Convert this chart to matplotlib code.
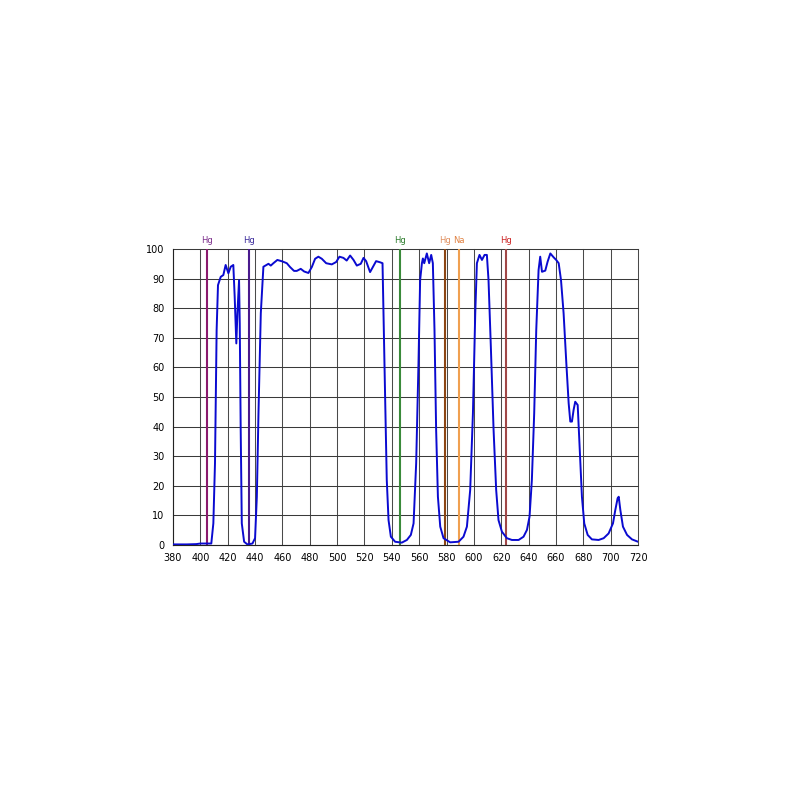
import numpy as np
import matplotlib
matplotlib.use("Agg")
import matplotlib.pyplot as plt

# transmission curve (wavelength nm, %)
wl = [380, 390, 397, 400, 405, 408, 409.5, 410.7, 411.9, 412.9, 414.9, 416.8, 418.5, 420.5,
      422.2, 424.1, 425.1, 426.3, 427.1, 428.3, 428.8, 429.5, 430.3, 432, 434.4, 438.1,
      440, 441.3, 442.5, 444.2, 446.1, 449.8, 451.5, 453.4, 456.3, 460, 463.2, 465.6,
      468.5, 470.5, 473.4, 475.9, 479, 481.5, 483.9, 486.3, 488.8, 492, 496.1, 499.3,
      501.7, 504.6, 507, 509.5, 512, 514.4, 517.3, 519.3, 521.2, 524.1, 526.1, 528.5,
      531.5, 533.2, 533.9, 535.1, 536.3, 537.6, 539.3, 542.4, 547.3, 551, 553.9, 555.9,
      557.8, 559.5, 560.7, 562, 562.7, 563.7, 565.6, 567.3, 568.8, 570, 571.2, 572.4,
      573.7, 575.4, 577.8, 582.7, 588.8, 592.4, 594.9, 597.3, 599.3, 601, 602.2, 604.1,
      605.9, 607.8, 609.5, 610.7, 612.4, 614.4, 616.3, 618, 620.5, 624.1, 627.8, 632.7,
      636.3, 638.8, 640.7, 642.4, 644.1, 645.6, 647.3, 648.5, 649.8, 652.2, 653.9, 655.9,
      658.3, 660.2, 662, 663.7, 665.6, 667.6, 669.3, 670.5, 671.7, 672.9, 674.1, 675.9,
      677.3, 679, 680.7, 683.2, 686.3, 691.2, 694.9, 698.5, 701.7, 703.4, 705.1, 705.9,
      707.1, 709, 712, 715.6, 720]
trans = [0.2, 0.2, 0.3, 0.5, 0.5, 0.5, 7.3, 27.6, 72.6, 87.8, 90.6, 91.2, 94.6, 91.8,
         94.0, 94.6, 83.9, 68.1, 78.3, 89.5, 74.9, 38.9, 7.3, 1.1, 0.2, 0.5,
         2.3, 16.3, 44.5, 78.3, 94.0, 95.0, 94.4, 95.2, 96.3, 95.8, 95.2, 93.9,
         92.6, 92.6, 93.3, 92.4, 91.9, 93.9, 96.7, 97.4, 96.7, 95.2, 94.8, 95.6,
         97.4, 97.0, 96.1, 97.8, 96.3, 94.4, 95.0, 97.0, 95.9, 92.2, 93.9, 95.9,
         95.5, 95.2, 78.0, 50.0, 22.0, 8.4, 2.8, 1.1, 0.8, 1.7, 3.4, 7.3,
         27.6, 61.4, 89.5, 95.2, 96.8, 95.2, 98.5, 95.2, 98.0, 95.2, 72.6, 38.9,
         16.3, 6.2, 2.3, 0.9, 1.1, 2.8, 6.2, 18.6, 44.5, 78.3, 95.2, 98.0,
         96.3, 98.0, 98.0, 89.5, 67.0, 38.9, 18.6, 8.4, 4.5, 2.3, 1.7, 1.7,
         2.8, 5.1, 9.6, 22.0, 44.5, 72.6, 92.9, 97.4, 92.3, 92.7, 95.7, 98.5,
         97.2, 96.3, 95.2, 89.5, 78.3, 61.4, 47.9, 41.7, 41.7, 45.6, 48.4, 47.3,
         33.2, 16.3, 7.3, 3.4, 1.9, 1.7, 2.3, 3.9, 7.3, 11.8, 15.8, 16.3,
         11.8, 6.2, 3.4, 1.9, 1.1]

# emission lines
line_wl = [404.7, 435.8, 546.1, 579.0, 589.3, 623.4]
line_names = ["Hg", "Hg", "Hg", "Hg", "Na", "Hg"]
line_colors = ["#8b1a6e", "#4a1a8e", "#3a8a3a", "#8b4513", "#f0a050", "#a04848"]
label_colors = ["#7b2d8b", "#3a2a9a", "#2e7d2e", "#e09060", "#e08040", "#cc2222"]

xticks = list(range(380, 721, 20))
yticks = list(range(0, 101, 10))

fig = plt.figure(figsize=(8, 8), dpi=100)
ax = fig.add_axes([0.21625, 0.31875, 0.58125, 0.37])

for x in xticks:
    ax.axvline(x, color="#4a4a4a", lw=0.75, zorder=1, clip_on=False)
for y in yticks:
    ax.axhline(y, color="#3a3a3a", lw=0.75, zorder=1, clip_on=False)

for x, c in zip(line_wl, line_colors):
    ax.axvline(x, color=c, lw=1.5, zorder=2)

ax.plot(wl, trans, color="#0a0ad0", lw=1.4, zorder=3)

for x, name, c in zip(line_wl, line_names, label_colors):
    ax.text(x, 101.5, name, color=c, fontsize=6, ha="center", va="bottom")

ax.set_xlim(380, 720)
ax.set_ylim(0, 100)
ax.set_xticks(xticks)
ax.set_yticks(yticks)
ax.tick_params(length=0, labelsize=7, pad=6)
for s in ax.spines.values():
    s.set_visible(False)
ax.spines["left"].set_visible(True)
ax.spines["bottom"].set_visible(True)
ax.spines["left"].set_color("#222222")
ax.spines["bottom"].set_color("#222222")

fig.savefig("out.png", dpi=100)
